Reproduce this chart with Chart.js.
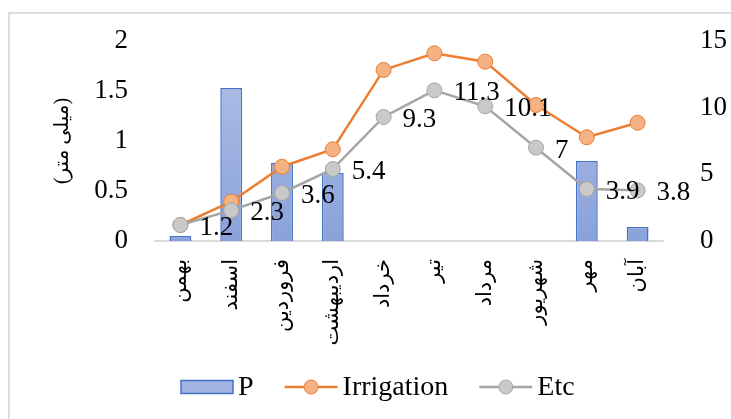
<!DOCTYPE html>
<html><head><meta charset="utf-8">
<script src="https://cdn.jsdelivr.net/npm/chart.js@4"></script>
<style>
html,body{margin:0;padding:0;background:#fff;overflow:hidden;width:731px;height:419px}
#frame{position:absolute;left:8px;top:12px;width:1000px;height:1000px;border-left:2px solid #dedede;border-top:2px solid #dedede}
#c{position:absolute;left:0;top:0}
</style></head>
<body><div id="frame"></div><canvas id="c" width="731" height="419"></canvas>
<script>
const months = ['بهمن','اسفند','فروردین','اردیبهشت','خرداد','تیر','مرداد','شهریور','مهر','آبان'];
const pValues = [0.05, 1.53, 0.78, 0.68, 0, 0, 0, 0, 0.80, 0.14];
const irrigationValues = [1.2, 2.95, 5.57, 6.88, 12.83, 14.08, 13.45, 10.2, 7.78, 8.87];
const etcValues = [1.2, 2.3, 3.6, 5.4, 9.3, 11.3, 10.1, 7, 3.9, 3.8];
const leftTicks = [0, 0.5, 1, 1.5, 2];
const rightTicks = [0, 5, 10, 15];
const yTitle = '(میلی متر)';

Chart.defaults.color = '#000';
const serif = '"Liberation Serif", "Times New Roman", "DejaVu Sans", serif';

const labelPlugin = {
  id: 'etcLabels',
  afterDatasetsDraw(chart) {
    const ctx = chart.ctx;
    const idx = chart.data.datasets.findIndex(d => d.label === 'Etc');
    const meta = chart.getDatasetMeta(idx);
    ctx.save();
    ctx.font = '27px ' + serif;
    ctx.fillStyle = '#000';
    ctx.textAlign = 'left';
    ctx.textBaseline = 'middle';
    meta.data.forEach((pt, i) => {
      ctx.fillText(String(etcValues[i]), pt.x + 19, pt.y + 3);
    });
    ctx.restore();
  }
};

const legendPlugin = {
  id: 'customLegend',
  afterDraw(chart) {
    const ctx = chart.ctx;
    const ds = chart.data.datasets;
    const cy = 387;
    ctx.save();
    ctx.font = '28px ' + serif;
    ctx.textBaseline = 'middle';
    ctx.textAlign = 'left';
    let x = 181;
    ds.forEach((d, i) => {
      if (d.type === 'bar') {
        ctx.fillStyle = '#a3b4e2';
        ctx.fillRect(x, cy - 6.5, 52, 13);
        ctx.strokeStyle = d.borderColor; ctx.lineWidth = 1.5;
        ctx.strokeRect(x, cy - 6.5, 52, 13);
        x += 57;
      } else {
        ctx.strokeStyle = d.borderColor; ctx.lineWidth = 2.5;
        ctx.beginPath(); ctx.moveTo(x, cy); ctx.lineTo(x + 53, cy); ctx.stroke();
        ctx.beginPath(); ctx.arc(x + 26.5, cy, 7, 0, Math.PI * 2);
        ctx.fillStyle = d.pointBackgroundColor; ctx.fill();
        ctx.lineWidth = 1; ctx.strokeStyle = d.pointBorderColor; ctx.stroke();
        x += 58;
      }
      ctx.fillStyle = '#000';
      ctx.fillText(d.label, x, cy + 1);
      x += ctx.measureText(d.label).width + 31;
    });
    ctx.restore();
  }
};

const noVPad = (w) => (s) => { s.width = w; s.paddingTop = 0; s.paddingBottom = 0; };

const ctx = document.getElementById('c').getContext('2d');
new Chart(ctx, {
  data: {
    labels: months,
    datasets: [
      {
        type: 'bar', label: 'P', data: pValues, yAxisID: 'y', order: 3,
        backgroundColor: (c) => {
          const a = c.chart.chartArea;
          if (!a) return '#a3b4e2';
          const g = c.chart.ctx.createLinearGradient(0, a.top, 0, a.bottom);
          g.addColorStop(0, '#b3c1e8');
          g.addColorStop(1, '#8aa2da');
          return g;
        },
        borderColor: '#4472c4', borderWidth: 1.5,
        categoryPercentage: 1, barPercentage: 0.43
      },
      {
        type: 'line', label: 'Irrigation', data: irrigationValues, yAxisID: 'y1', order: 2,
        borderColor: '#ed7d31', borderWidth: 2.5,
        pointBackgroundColor: '#f4b183', pointBorderColor: '#ed7d31', pointBorderWidth: 1,
        pointRadius: 7.5, tension: 0
      },
      {
        type: 'line', label: 'Etc', data: etcValues, yAxisID: 'y1', order: 1,
        borderColor: '#a5a5a5', borderWidth: 2.5,
        pointBackgroundColor: '#c9c9c9', pointBorderColor: '#a5a5a5', pointBorderWidth: 1,
        pointRadius: 7.5, tension: 0
      }
    ]
  },
  options: {
    responsive: false,
    animation: false,
    layout: { padding: { left: 0, right: 0, top: 41, bottom: 58 } },
    plugins: { legend: { display: false }, tooltip: { enabled: false } },
    scales: {
      x: {
        grid: { display: false, drawTicks: false },
        border: { display: true, color: '#d9d9d9', width: 2 },
        ticks: { maxRotation: 90, minRotation: 90, autoSkip: false, padding: 18,
                 font: { size: 21, family: serif }, color: '#000' },
        afterFit(s) { s.height = 120; s.paddingLeft = 0; s.paddingRight = 0; }
      },
      y: {
        position: 'left', min: 0, max: 2,
        afterBuildTicks(s) { s.ticks = leftTicks.map(v => ({ value: v })); },
        grid: { display: false, drawTicks: false },
        border: { display: false },
        ticks: { padding: 27, font: { size: 27, family: serif }, color: '#000',
                 callback: (v) => String(v) },
        title: { display: true, text: yTitle, font: { size: 20, family: serif }, color: '#000', padding: { top: 51, bottom: 0 } },
        afterFit: noVPad(155)
      },
      y1: {
        position: 'right', min: 0, max: 15,
        afterBuildTicks(s) { s.ticks = rightTicks.map(v => ({ value: v })); },
        grid: { display: false, drawTicks: false },
        border: { display: false },
        ticks: { padding: 37, font: { size: 27, family: serif }, color: '#000',
                 callback: (v) => String(v) },
        afterFit: noVPad(68)
      }
    }
  },
  plugins: [labelPlugin, legendPlugin]
});
</script></body></html>
